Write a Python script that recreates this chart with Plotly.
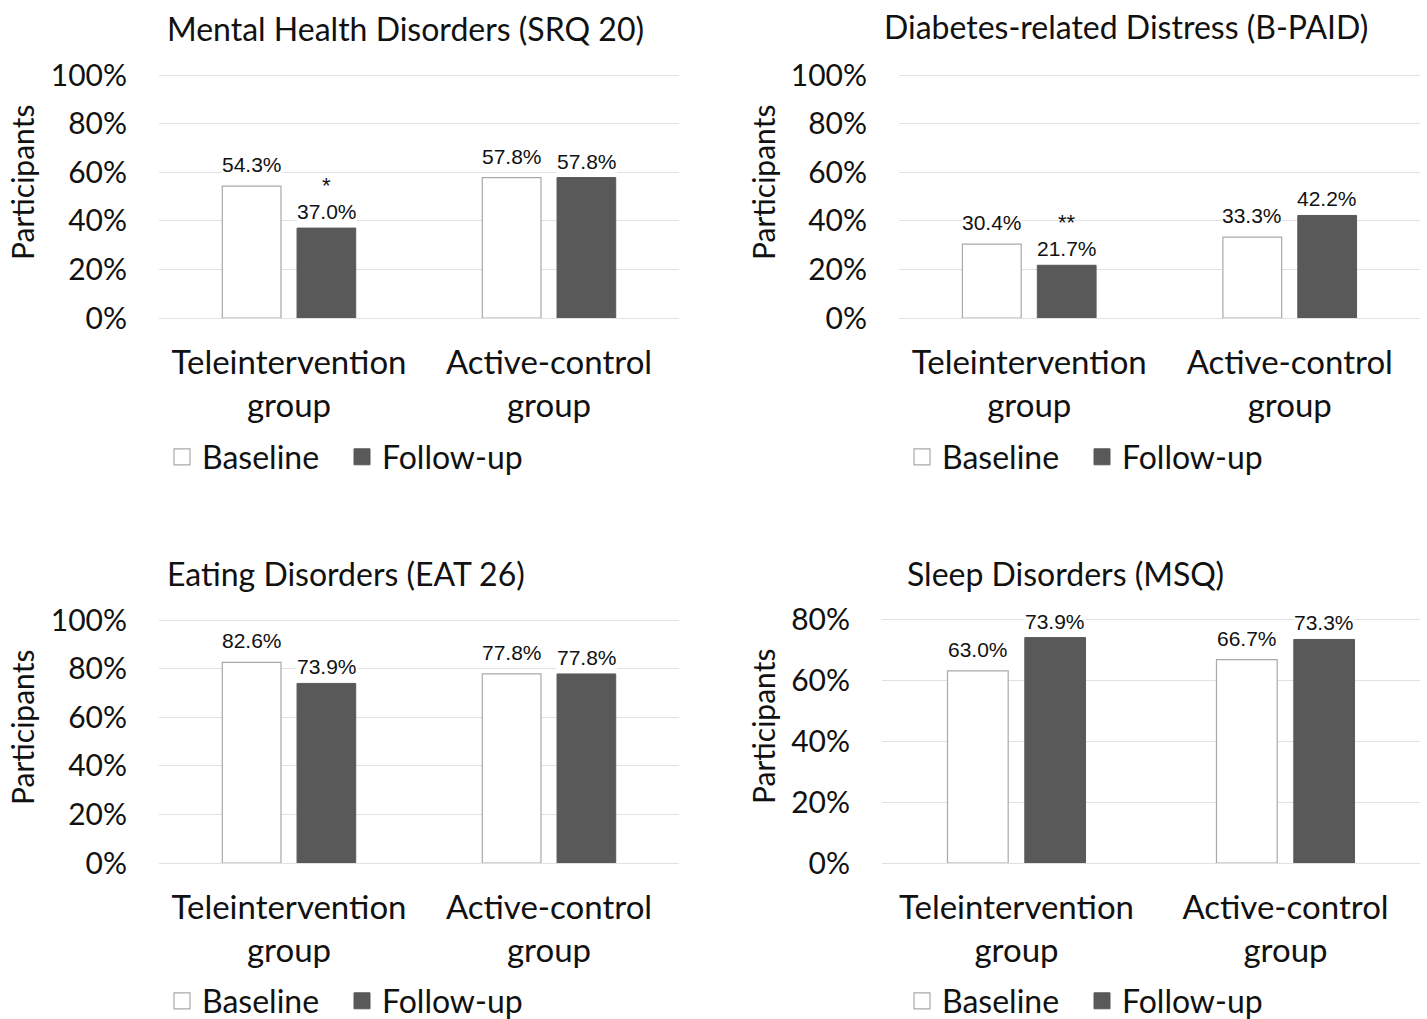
import plotly.graph_objects as go

# ---------------- data ----------------
categories = ["Teleintervention<br>group", "Active-control<br>group"]
series_names = ["Baseline", "Follow-up"]

titles = [
    "Mental Health Disorders (SRQ 20)",
    "Diabetes-related Distress (B-PAID)",
    "Eating Disorders (EAT 26)",
    "Sleep Disorders (MSQ)",
]

srq_baseline = [54.3, 57.8]
srq_followup = [37.0, 57.8]
bpaid_baseline = [30.4, 33.3]
bpaid_followup = [21.7, 42.2]
eat_baseline = [82.6, 77.8]
eat_followup = [73.9, 77.8]
msq_baseline = [63.0, 66.7]
msq_followup = [73.9, 73.3]

# significance markers on follow-up bars (panel index, category index, text)
significance = [(0, 0, "*"), (1, 0, "**")]

y_max = [100, 100, 100, 80]
tickvals_100 = [0, 20, 40, 60, 80, 100]
ticktext_100 = ["0%", "20%", "40%", "60%", "80%", "100%"]
tickvals_80 = [0, 20, 40, 60, 80]
ticktext_80 = ["0%", "20%", "40%", "60%", "80%"]
y_tickvals = [tickvals_100, tickvals_100, tickvals_100, tickvals_80]
y_ticktext = [ticktext_100, ticktext_100, ticktext_100, ticktext_80]

# ---------------- style ----------------
W, H = 1427, 1019
FONT = "Lato, 'Open Sans', sans-serif"
LABEL_FONT = "'Liberation Sans', Arial, sans-serif"
TXT = "#111111"
GRID = "#e1e1e1"
BASE_FILL, BASE_LINE = "#ffffff", "#a9a9a9"
FU_FILL = "#595959"
TOP_PAD = 4  # px of plot area above the top gridline

def px_x(p):
    return p / W

def px_y(p):
    return 1 - p / H

# plot-area pixel boxes (left, right, top gridline, bottom)
boxes = [
    (159, 679, 75, 318),
    (899, 1420, 75, 318),
    (159, 679, 620, 863),
    (882, 1420, 619, 863),
]
title_pos = [(165, 28), (882, 27), (165, 573), (905, 573)]
ytitle_pos = [(22, 183), (763, 183), (22, 728), (763, 727)]
legend_pos = [(162, 457), (902, 457), (162, 1001), (902, 1001)]
bar_half_slot = [37.5, 37.5, 37.5, 38.5]

baselines = [srq_baseline, bpaid_baseline, eat_baseline, msq_baseline]
followups = [srq_followup, bpaid_followup, eat_followup, msq_followup]

fig = go.Figure()
annotations = []
layout_axes = {}

LABEL_SIZE = 21
LABEL_BOX = 23.5

for i in range(4):
    k = "" if i == 0 else str(i + 1)
    xa, ya = "x" + k, "y" + k
    leg = "legend" + k
    fig.add_trace(go.Bar(
        x=categories, y=baselines[i], name=series_names[0],
        marker=dict(color=BASE_FILL, line=dict(color=BASE_LINE, width=1.2)),
        xaxis=xa, yaxis=ya, showlegend=False, hoverinfo="x+y",
    ))
    fig.add_trace(go.Bar(
        x=categories, y=followups[i], name=series_names[1],
        marker=dict(color=FU_FILL, line=dict(color=FU_FILL, width=1)),
        xaxis=xa, yaxis=ya, showlegend=False, hoverinfo="x+y",
    ))
    # legend entries
    fig.add_trace(go.Scatter(
        x=[None], y=[None], mode="markers", name=series_names[0],
        marker=dict(symbol="square", size=19, color=BASE_FILL,
                    line=dict(color=BASE_LINE, width=1.2)),
        xaxis=xa, yaxis=ya, legend=leg, showlegend=True,
    ))
    fig.add_trace(go.Scatter(
        x=[None], y=[None], mode="markers", name=series_names[1],
        marker=dict(symbol="square", size=19, color=FU_FILL,
                    line=dict(color=FU_FILL, width=1)),
        xaxis=xa, yaxis=ya, legend=leg, showlegend=True,
    ))

    l, r, t, b = boxes[i]
    span = b - t
    layout_axes["xaxis" + k] = dict(
        domain=[px_x(l), px_x(r)], anchor=ya, type="category",
        categoryorder="array", categoryarray=categories,
        showgrid=False, showline=False, zeroline=False, ticks="",
        tickfont=dict(family=FONT, size=33, color=TXT),
        ticklabelstandoff=22, fixedrange=True, automargin=False,
    )
    layout_axes["yaxis" + k] = dict(
        domain=[px_y(b), px_y(t - TOP_PAD)], anchor=xa,
        range=[0, y_max[i] * (span + TOP_PAD) / span],
        tickmode="array", tickvals=y_tickvals[i], ticktext=y_ticktext[i],
        showgrid=True, gridcolor=GRID, gridwidth=1.3,
        zeroline=True, zerolinecolor=GRID, zerolinewidth=1.3,
        showline=False, ticks="",
        tickfont=dict(family=FONT, size=30, color=TXT),
        ticklabelstandoff=31, fixedrange=True, automargin=False,
    )
    lx, ly = legend_pos[i]
    layout_axes[leg] = dict(
        orientation="h", x=px_x(lx), y=px_y(ly), xanchor="left", yanchor="middle",
        font=dict(family=FONT, size=32, color=TXT), bgcolor="rgba(0,0,0,0)",
        entrywidth=135, entrywidthmode="pixels",
        itemclick=False, itemdoubleclick=False,
    )

    # title
    tx, ty = title_pos[i]
    annotations.append(dict(
        text=titles[i], x=px_x(tx), y=px_y(ty), xref="paper", yref="paper",
        xanchor="left", yanchor="middle", showarrow=False,
        font=dict(family=FONT, size=32, color=TXT),
    ))
    # y-axis title
    ax, ay = ytitle_pos[i]
    annotations.append(dict(
        text="Participants", x=px_x(ax), y=px_y(ay), xref="paper", yref="paper",
        xanchor="center", yanchor="middle", showarrow=False, textangle=-90,
        font=dict(family=FONT, size=30, color=TXT),
    ))
    # data labels
    for j, c in enumerate(categories):
        for vals, sign, ysh in ((baselines[i], -1, 9), (followups[i], 1, 4)):
            annotations.append(dict(
                text=f"{vals[j]:.1f}%", x=c, y=vals[j], xref=xa, yref=ya,
                xshift=sign * bar_half_slot[i], yshift=ysh,
                xanchor="center", yanchor="bottom", showarrow=False,
                bgcolor="#ffffff", borderpad=0,
                font=dict(family=LABEL_FONT, size=LABEL_SIZE, color=TXT),
            ))

for (pi, ci, s) in significance:
    k = "" if pi == 0 else str(pi + 1)
    annotations.append(dict(
        text=s, x=categories[ci], y=followups[pi][ci], xref="x" + k, yref="y" + k,
        xshift=bar_half_slot[pi], yshift=4 + LABEL_BOX + 1.5,
        xanchor="center", yanchor="bottom", borderpad=0,
        showarrow=False, font=dict(family=LABEL_FONT, size=22, color=TXT),
    ))

fig.update_layout(
    width=W, height=H, margin=dict(l=0, r=0, t=0, b=0, pad=0, autoexpand=False),
    paper_bgcolor="#ffffff", plot_bgcolor="#ffffff",
    barmode="group", bargap=0.425, bargroupgap=0.215,
    annotations=annotations, hovermode=False,
    **layout_axes,
)

fig.write_html(
    "out.html",
    config={"displayModeBar": False, "staticPlot": False},
    post_script="document.body.style.margin='0';",
)
